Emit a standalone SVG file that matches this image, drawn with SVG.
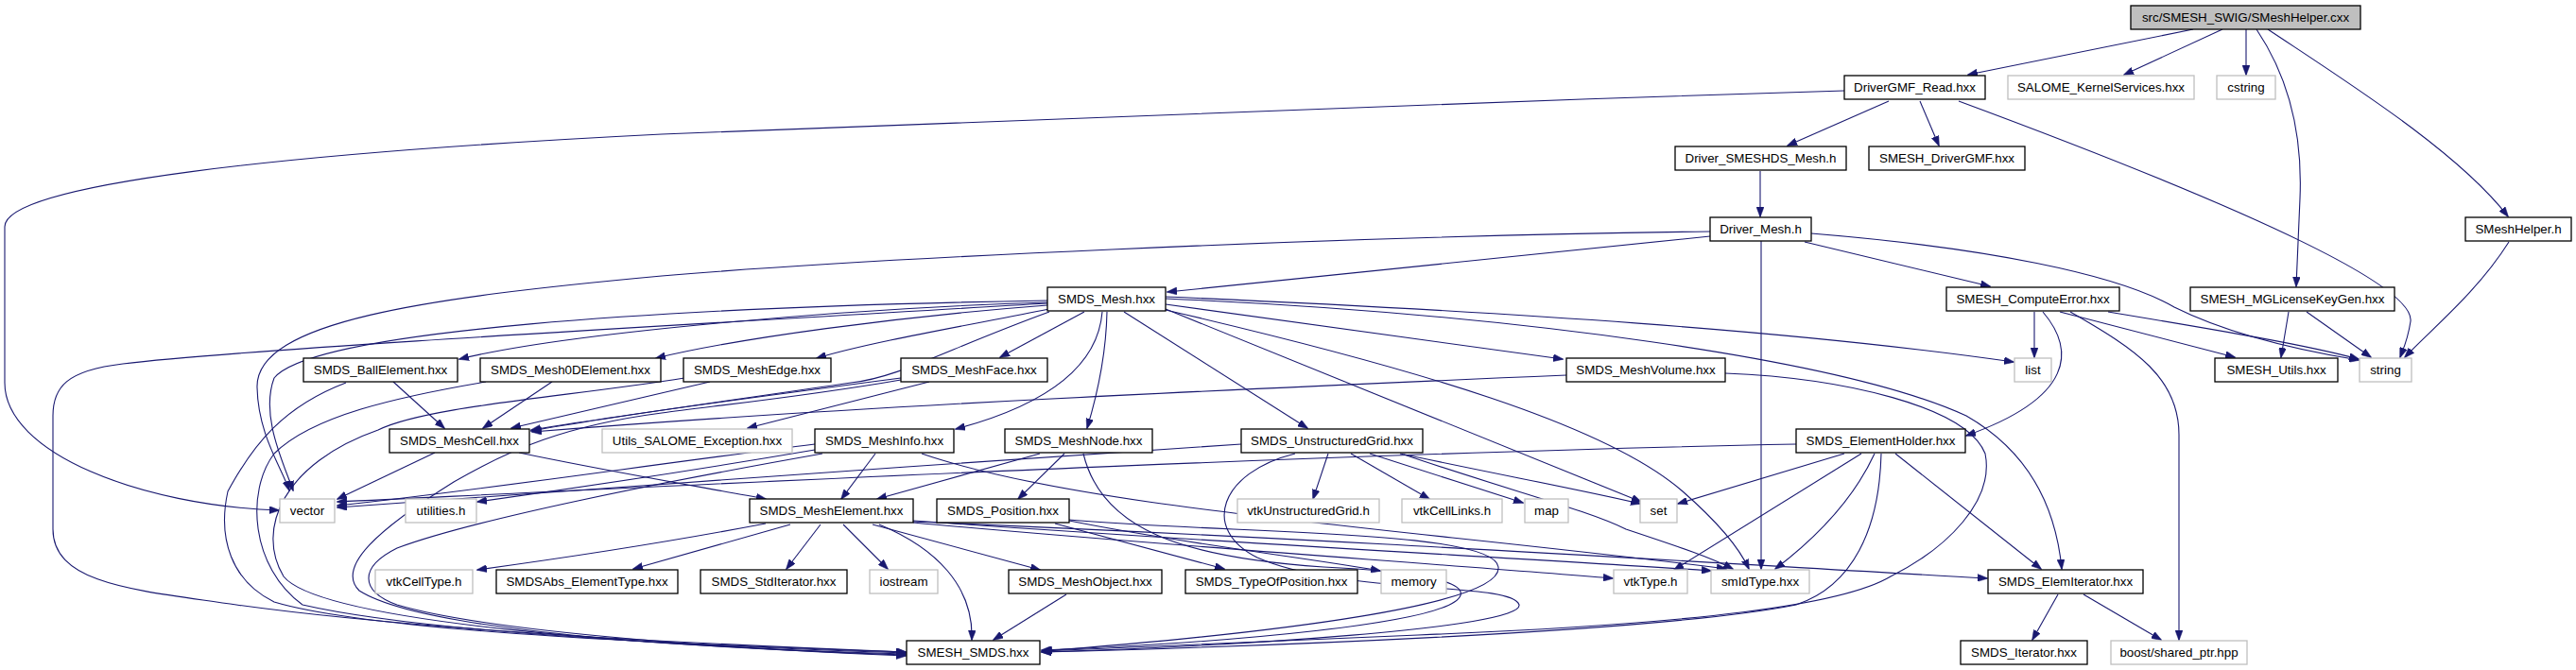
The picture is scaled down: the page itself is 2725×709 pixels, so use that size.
<svg xmlns="http://www.w3.org/2000/svg" width="2725" height="709" viewBox="0 0 2725 709">
<style>
.n rect{fill:#fff;stroke:#000;stroke-width:1.3}
.g rect{fill:#fff;stroke:#bfbfbf;stroke-width:1.3}
.r rect{fill:#bfbfbf;stroke:#000;stroke-width:1.3}
text{font-family:"Liberation Sans",Arial,sans-serif;font-size:13.33px;fill:#000;text-anchor:middle}
#edges path{fill:none;stroke:#191970;stroke-width:1.1;marker-end:url(#a)}
</style>
<defs>
<marker id="a" markerWidth="11" markerHeight="8" refX="10" refY="4" orient="auto" markerUnits="userSpaceOnUse"><path d="M0,0 L11,4 L0,8 z" fill="#191970" stroke="#191970" stroke-width="0.5"/></marker>
</defs>
<rect width="2725" height="709" fill="#fff"/>
<g id="edges">
<path d="M2320,31 L2082,79"/>
<path d="M2351,31 L2247,79"/>
<path d="M2376,31 L2376,79"/>
<path d="M2387,31 C2420,80 2436,140 2433,210 C2431,250 2430,280 2429,303"/>
<path d="M2399,31 C2480,85 2600,160 2653,229"/>
<path d="M1998,107 L1891,154"/>
<path d="M2031,107 L2051,154"/>
<path d="M1951,96 C1500,110 1000,128 700,142 C300,162 5,195 5,240 L5,405 C5,480 150,535 295,540"/>
<path d="M2072,107 C2350,210 2555,300 2550,340 C2547,360 2542,370 2539,378"/>
<path d="M1862,181 L1862,229"/>
<path d="M1809,250 L1235,309"/>
<path d="M1909,256 L2105,303"/>
<path d="M1809,245 C1400,250 900,275 700,292 C450,315 270,340 272,410 C273,460 298,495 306,519"/>
<path d="M1916,247 C2100,262 2240,290 2300,325 C2360,355 2440,372 2495,381"/>
<path d="M1863,255 L1863,602"/>
<path d="M2654,256 C2620,310 2570,350 2544,378"/>
<path d="M2421,330 L2413,378"/>
<path d="M2440,330 L2508,378"/>
<path d="M2152,330 L2152,378"/>
<path d="M2179,330 L2364,378"/>
<path d="M2230,330 C2350,350 2440,365 2495,380"/>
<path d="M2161,330 C2195,370 2195,420 2080,461"/>
<path d="M2190,330 C2260,370 2305,400 2305,460 L2305,677"/>
<path d="M1108,320 C900,326 600,352 486,380"/>
<path d="M1108,323 C950,335 780,358 694,379"/>
<path d="M1110,327 C1020,345 920,362 864,379"/>
<path d="M1147,330 L1058,378"/>
<path d="M1166,330 C1162,380 1120,425 1011,454"/>
<path d="M1171,330 C1170,380 1160,420 1150,453"/>
<path d="M1189,330 L1383,453"/>
<path d="M1233,322 L1653,380"/>
<path d="M1233,314 C1600,330 1900,350 2130,383"/>
<path d="M1233,327 L1736,531"/>
<path d="M1233,328 C1500,390 1700,450 1780,520 C1820,555 1840,580 1850,602"/>
<path d="M1233,316 C1600,332 1950,380 2080,440 C2150,480 2175,540 2181,602"/>
<path d="M1108,318 C700,325 330,350 290,400 C275,440 300,490 310,519"/>
<path d="M1110,330 C1000,370 950,400 900,405 C800,420 650,440 562,456"/>
<path d="M1108,321 C700,345 250,370 130,385 C70,392 56,410 56,440 L56,560 C56,620 150,625 250,640 C450,668 750,682 958,690"/>
<path d="M416,404 L470,453"/>
<path d="M366,405 C300,430 268,470 241,520 C230,570 245,615 290,637 C400,670 750,683 958,690"/>
<path d="M584,404 L511,453"/>
<path d="M514,404 C420,420 330,440 290,480 C260,520 265,600 320,640 C450,670 750,684 958,691"/>
<path d="M751,404 L541,453"/>
<path d="M724,400 C600,420 450,430 400,455 C300,490 270,560 300,610 C340,660 700,685 958,692"/>
<path d="M953,400 C800,420 650,440 562,455"/>
<path d="M983,404 L791,453"/>
<path d="M953,402 C850,420 750,430 700,437 C600,450 540,475 480,510 C400,560 355,600 380,625 C450,670 750,686 958,693"/>
<path d="M1657,397 C1300,412 900,430 563,457"/>
<path d="M1825,395 C1950,400 2080,430 2100,480 C2110,530 2060,580 2000,610 C1950,640 1800,660 1500,672 C1300,680 1150,686 1102,689"/>
<path d="M460,479 L357,528"/>
<path d="M549,479 C650,500 740,515 810,528"/>
<path d="M926,480 L890,528"/>
<path d="M862,470 C700,490 500,520 357,535"/>
<path d="M862,476 C750,495 620,515 505,531"/>
<path d="M975,480 C1150,540 1500,560 1826,602"/>
<path d="M870,480 C700,510 500,550 420,580 C380,600 380,625 420,640 C520,670 800,688 958,694"/>
<path d="M1100,480 L928,528"/>
<path d="M1126,480 L1077,528"/>
<path d="M1146,480 C1165,560 1250,590 1400,600 C1500,605 1550,615 1545,630 C1535,660 1300,680 1102,688"/>
<path d="M1405,480 L1389,528"/>
<path d="M1429,480 L1512,528"/>
<path d="M1449,480 L1611,532"/>
<path d="M1481,480 C1600,505 1680,520 1735,533"/>
<path d="M1485,481 C1600,520 1680,540 1720,560 C1780,580 1810,590 1833,602"/>
<path d="M1313,470 C1000,490 600,520 357,537"/>
<path d="M1370,480 C1290,500 1270,560 1330,590 C1420,630 1600,615 1607,640 C1612,665 1300,684 1102,690"/>
<path d="M1900,470 C1400,480 800,510 357,531"/>
<path d="M1951,480 L1775,533"/>
<path d="M1969,480 L1771,603"/>
<path d="M1983,480 C1960,530 1920,570 1878,602"/>
<path d="M1990,480 C1988,560 1960,620 1900,640 C1750,670 1300,685 1102,690"/>
<path d="M2005,480 L2159,602"/>
<path d="M810,554 C700,575 600,590 505,603"/>
<path d="M836,555 L670,602"/>
<path d="M868,555 L832,602"/>
<path d="M892,555 L939,602"/>
<path d="M930,555 C990,580 1030,620 1028,677"/>
<path d="M923,555 L1100,603"/>
<path d="M966,553 C1200,575 1500,595 1706,612"/>
<path d="M966,551 C1300,575 1600,590 1810,604"/>
<path d="M966,552 C1400,570 1800,595 2102,612"/>
<path d="M1131,551 C1250,575 1380,590 1460,604"/>
<path d="M1116,554 L1295,602"/>
<path d="M1131,550 C1300,565 1580,560 1585,600 C1590,640 1350,670 1103,689"/>
<path d="M1128,629 L1051,677"/>
<path d="M2177,629 L2150,677"/>
<path d="M2204,629 L2286,677"/>
</g>
<g id="n0" class="r"><rect x="2254" y="6" width="243" height="25"/><text x="2375.5" y="23">src/SMESH_SWIG/SMeshHelper.cxx</text></g>
<g id="n1" class="n"><rect x="1951" y="80" width="149" height="25"/><text x="2025.5" y="97">DriverGMF_Read.hxx</text></g>
<g id="n2" class="g"><rect x="2124" y="80" width="197" height="25"/><text x="2222.5" y="97">SALOME_KernelServices.hxx</text></g>
<g id="n3" class="g"><rect x="2345" y="80" width="62" height="25"/><text x="2376" y="97">cstring</text></g>
<g id="n4" class="n"><rect x="1772" y="155" width="181" height="25"/><text x="1862.5" y="172">Driver_SMESHDS_Mesh.h</text></g>
<g id="n5" class="n"><rect x="1977" y="155" width="165" height="25"/><text x="2059.5" y="172">SMESH_DriverGMF.hxx</text></g>
<g id="n6" class="n"><rect x="1809" y="230" width="107" height="25"/><text x="1862.5" y="247">Driver_Mesh.h</text></g>
<g id="n7" class="n"><rect x="2608" y="230" width="112" height="25"/><text x="2664" y="247">SMeshHelper.h</text></g>
<g id="n8" class="n"><rect x="1108" y="304" width="125" height="25"/><text x="1170.5" y="321">SMDS_Mesh.hxx</text></g>
<g id="n9" class="n"><rect x="2059" y="304" width="183" height="25"/><text x="2150.5" y="321">SMESH_ComputeError.hxx</text></g>
<g id="n10" class="n"><rect x="2317" y="304" width="216" height="25"/><text x="2425" y="321">SMESH_MGLicenseKeyGen.hxx</text></g>
<g id="n11" class="n"><rect x="321" y="379" width="163" height="25"/><text x="402.5" y="396">SMDS_BallElement.hxx</text></g>
<g id="n12" class="n"><rect x="508" y="379" width="191" height="25"/><text x="603.5" y="396">SMDS_Mesh0DElement.hxx</text></g>
<g id="n13" class="n"><rect x="723" y="379" width="156" height="25"/><text x="801" y="396">SMDS_MeshEdge.hxx</text></g>
<g id="n14" class="n"><rect x="953" y="379" width="155" height="25"/><text x="1030.5" y="396">SMDS_MeshFace.hxx</text></g>
<g id="n15" class="n"><rect x="1657" y="379" width="168" height="25"/><text x="1741" y="396">SMDS_MeshVolume.hxx</text></g>
<g id="n16" class="g"><rect x="2131" y="379" width="39" height="25"/><text x="2150.5" y="396">list</text></g>
<g id="n17" class="n"><rect x="2343" y="379" width="130" height="25"/><text x="2408" y="396">SMESH_Utils.hxx</text></g>
<g id="n18" class="g"><rect x="2496" y="379" width="55" height="25"/><text x="2523.5" y="396">string</text></g>
<g id="n19" class="n"><rect x="412" y="454" width="148" height="25"/><text x="486" y="471">SMDS_MeshCell.hxx</text></g>
<g id="n20" class="g"><rect x="637" y="454" width="201" height="25"/><text x="737.5" y="471">Utils_SALOME_Exception.hxx</text></g>
<g id="n21" class="n"><rect x="862" y="454" width="147" height="25"/><text x="935.5" y="471">SMDS_MeshInfo.hxx</text></g>
<g id="n22" class="n"><rect x="1063" y="454" width="156" height="25"/><text x="1141" y="471">SMDS_MeshNode.hxx</text></g>
<g id="n23" class="n"><rect x="1313" y="454" width="192" height="25"/><text x="1409" y="471">SMDS_UnstructuredGrid.hxx</text></g>
<g id="n24" class="n"><rect x="1900" y="454" width="179" height="25"/><text x="1989.5" y="471">SMDS_ElementHolder.hxx</text></g>
<g id="n25" class="g"><rect x="296" y="528" width="58" height="25"/><text x="325" y="545">vector</text></g>
<g id="n26" class="g"><rect x="429" y="528" width="75" height="25"/><text x="466.5" y="545">utilities.h</text></g>
<g id="n27" class="n"><rect x="793" y="528" width="173" height="25"/><text x="879.5" y="545">SMDS_MeshElement.hxx</text></g>
<g id="n28" class="n"><rect x="991" y="528" width="140" height="25"/><text x="1061" y="545">SMDS_Position.hxx</text></g>
<g id="n29" class="g"><rect x="1309" y="528" width="150" height="25"/><text x="1384" y="545">vtkUnstructuredGrid.h</text></g>
<g id="n30" class="g"><rect x="1483" y="528" width="106" height="25"/><text x="1536" y="545">vtkCellLinks.h</text></g>
<g id="n31" class="g"><rect x="1613" y="528" width="46" height="25"/><text x="1636" y="545">map</text></g>
<g id="n32" class="g"><rect x="1735" y="528" width="39" height="25"/><text x="1754.5" y="545">set</text></g>
<g id="n33" class="g"><rect x="397" y="603" width="103" height="25"/><text x="448.5" y="620">vtkCellType.h</text></g>
<g id="n34" class="n"><rect x="525" y="603" width="192" height="25"/><text x="621" y="620">SMDSAbs_ElementType.hxx</text></g>
<g id="n35" class="n"><rect x="741" y="603" width="155" height="25"/><text x="818.5" y="620">SMDS_StdIterator.hxx</text></g>
<g id="n36" class="g"><rect x="920" y="603" width="72" height="25"/><text x="956" y="620">iostream</text></g>
<g id="n37" class="n"><rect x="1067" y="603" width="162" height="25"/><text x="1148" y="620">SMDS_MeshObject.hxx</text></g>
<g id="n38" class="n"><rect x="1254" y="603" width="182" height="25"/><text x="1345" y="620">SMDS_TypeOfPosition.hxx</text></g>
<g id="n39" class="g"><rect x="1461" y="603" width="69" height="25"/><text x="1495.5" y="620">memory</text></g>
<g id="n40" class="g"><rect x="1707" y="603" width="78" height="25"/><text x="1746" y="620">vtkType.h</text></g>
<g id="n41" class="g"><rect x="1810" y="603" width="104" height="25"/><text x="1862" y="620">smIdType.hxx</text></g>
<g id="n42" class="n"><rect x="2103" y="603" width="164" height="25"/><text x="2185" y="620">SMDS_ElemIterator.hxx</text></g>
<g id="n43" class="n"><rect x="959" y="678" width="141" height="25"/><text x="1029.5" y="695">SMESH_SMDS.hxx</text></g>
<g id="n44" class="n"><rect x="2074" y="678" width="134" height="25"/><text x="2141" y="695">SMDS_Iterator.hxx</text></g>
<g id="n45" class="g"><rect x="2233" y="678" width="144" height="25"/><text x="2305" y="695">boost/shared_ptr.hpp</text></g>
</svg>
